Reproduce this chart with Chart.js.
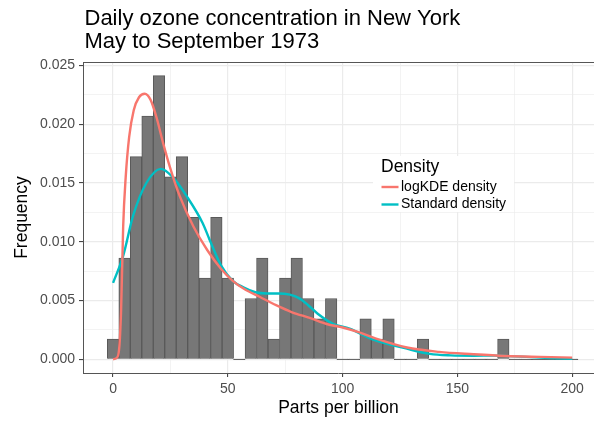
<!DOCTYPE html>
<html>
<head>
<meta charset="utf-8">
<script src="https://cdn.jsdelivr.net/npm/chart.js@4"></script>
<style>
  html, body { margin: 0; padding: 0; background: #fff; }
  #wrap { width: 594px; height: 421px; position: relative; }
</style>
</head>
<body>
<div id="wrap"><canvas id="chart"></canvas></div>
<script>
// histogram bins (width 5), density per bin
const binCenters = [0, 5, 10, 15, 20, 25, 30, 35, 40, 45, 50, 55, 60, 65, 70, 75, 80, 85, 90, 95, 100,
  105, 110, 115, 120, 125, 130, 135, 140, 145, 150, 155, 160, 165, 170, 175, 180, 185, 190, 195, 200];
const binDensity = [0.00172, 0.00862, 0.01724, 0.02069, 0.02414, 0.01552, 0.01724, 0.01207, 0.0069, 0.01207,
  0.0069, 0, 0.00517, 0.00862, 0.00172, 0.0069, 0.00862, 0.00517, 0.00345, 0.00517, 0,
  0, 0.00345, 0.00172, 0.00345, 0, 0, 0.00172, 0, 0, 0, 0, 0, 0, 0.00172, 0, 0, 0, 0, 0, 0];

// density curves
const logkdeX = [0, 1.5, 2.6, 3.5, 4.4, 5.5, 7, 9, 11.3, 13.8, 16.3, 18.9, 21.8, 24.7, 29, 35, 41, 47, 52, 57,
  64, 71, 78, 86, 93, 100, 107, 114, 128, 142, 157, 171, 186, 200];
const logkdeY = [0, 0.0001, 0.0008, 0.0042, 0.0113, 0.0155, 0.0189, 0.0212, 0.0223, 0.0226, 0.0221, 0.0206,
  0.0184, 0.0164, 0.0139, 0.0113, 0.0093, 0.0077, 0.0067, 0.0060, 0.0053, 0.0046, 0.0040, 0.0035, 0.0030,
  0.0027, 0.0023, 0.0018, 0.0010, 0.00063, 0.00043, 0.00028, 0.0002, 0.00014];
const standardX = [0, 4.4, 8.7, 14.5, 20.8, 26, 32, 39, 42, 47, 52, 57, 62, 67, 72, 77, 81, 85, 89, 96, 103,
  113, 128, 138, 147, 157, 166, 172, 180, 190, 200];
const standardY = [0.0065, 0.0088, 0.0122, 0.0150, 0.0162, 0.0155, 0.0139, 0.0116, 0.0102, 0.0080, 0.0067,
  0.0061, 0.0057, 0.0056, 0.0056, 0.0055, 0.0052, 0.0046, 0.0039, 0.0030, 0.0026, 0.0017, 0.0009, 0.00046,
  0.00033, 0.0003, 0.00031, 0.00027, 0.0002, 0.0001, 0.00003];

const xMajorTicks = [0, 50, 100, 150, 200];
const xMinorTicks = [25, 75, 125, 175];
const yMajorTicks = [0, 0.005, 0.01, 0.015, 0.02, 0.025];
const yMinorTicks = [0.0025, 0.0075, 0.0125, 0.0175, 0.0225];

const titleLines = ['Daily ozone concentration in New York', 'May to September 1973'];
const legendTitle = 'Density';
const seriesNames = ['logKDE density', 'Standard density'];
const seriesColors = ['#F8766D', '#00BFC4'];

const FONT = '"Liberation Sans", Arial, Helvetica, sans-serif';

const isMajor = (list, v) => list.some(m => Math.abs(m - v) < 1e-9);
const toPoints = (xs, ys) => xs.map((x, i) => ({ x: x, y: ys[i] }));

function setTicks(majors, minors) {
    return (scale) => {
        scale.ticks = majors.concat(minors).sort((a, b) => a - b).map(v => ({ value: v }));
    };
}

const decor = {
    id: 'decor',
    beforeDraw(chart) {
        const ctx = chart.ctx;
        ctx.save();
        ctx.fillStyle = '#fff';
        ctx.fillRect(0, 0, chart.width, chart.height);
        ctx.restore();
    },
    afterDraw(chart) {
        const ctx = chart.ctx;
        const area = chart.chartArea;
        ctx.save();
        // top border of the panel
        ctx.strokeStyle = '#555';
        ctx.lineWidth = 1;
        ctx.beginPath();
        ctx.moveTo(area.left, area.top + 0.5);
        ctx.lineTo(area.right, area.top + 0.5);
        ctx.stroke();

        // title
        ctx.fillStyle = '#000';
        ctx.font = '22px ' + FONT;
        ctx.textBaseline = 'alphabetic';
        ctx.textAlign = 'left';
        ctx.fillText(titleLines[0], 84.5, 24.5);
        ctx.fillText(titleLines[1], 84.5, 47.5);

        // legend
        ctx.fillStyle = '#fff';
        ctx.fillRect(373, 156, 141, 56);
        ctx.fillStyle = '#000';
        ctx.font = '17.5px ' + FONT;
        ctx.fillText(legendTitle, 381, 172);
        ctx.font = '14px ' + FONT;
        ctx.textBaseline = 'middle';
        const keyY = [187, 204.5];
        seriesNames.forEach((name, i) => {
            ctx.strokeStyle = seriesColors[i];
            ctx.lineWidth = 2.4;
            ctx.beginPath();
            ctx.moveTo(381.5, keyY[i]);
            ctx.lineTo(398.5, keyY[i]);
            ctx.stroke();
            ctx.fillStyle = '#000';
            ctx.fillText(name, 401, keyY[i]);
        });
        ctx.restore();
    }
};

const ctx = document.getElementById('chart').getContext('2d');
new Chart(ctx, {
    type: 'bar',
    data: {
        datasets: [
            {
                type: 'line',
                label: seriesNames[0],
                data: toPoints(logkdeX, logkdeY),
                borderColor: seriesColors[0],
                borderWidth: 2.4,
                pointRadius: 0,
                fill: false,
                cubicInterpolationMode: 'monotone',
                order: 0
            },
            {
                type: 'line',
                label: seriesNames[1],
                data: toPoints(standardX, standardY),
                borderColor: seriesColors[1],
                borderWidth: 2.4,
                pointRadius: 0,
                fill: false,
                cubicInterpolationMode: 'monotone',
                order: 1
            },
            {
                type: 'bar',
                label: 'Histogram',
                data: toPoints(binCenters, binDensity),
                backgroundColor: '#777777',
                borderColor: '#595959',
                borderWidth: 1,
                barPercentage: 1,
                categoryPercentage: 1,
                minBarLength: 1,
                order: 2
            }
        ]
    },
    options: {
        responsive: true,
        maintainAspectRatio: false,
        animation: false,
        layout: { padding: { top: 62, left: 0, right: 0, bottom: 0 } },
        plugins: {
            legend: { display: false },
            tooltip: { enabled: false }
        },
        scales: {
            x: {
                type: 'linear',
                min: -13.1,
                max: 209.5,
                offset: false,
                afterBuildTicks: setTicks(xMajorTicks, xMinorTicks),
                afterFit: (s) => { s.height = 48; },
                grid: {
                    offset: false,
                    color: '#ebebeb',
                    lineWidth: (c) => isMajor(xMajorTicks, c.tick.value) ? 1.2 : 0.6,
                    tickColor: (c) => isMajor(xMajorTicks, c.tick.value) ? '#333' : 'rgba(0,0,0,0)',
                    tickLength: 4,
                    tickWidth: 1
                },
                border: { display: true, color: '#555', width: 1 },
                ticks: {
                    autoSkip: false,
                    maxRotation: 0,
                    padding: 4,
                    color: '#4d4d4d',
                    font: { family: FONT, size: 14 },
                    callback: (v) => isMajor(xMajorTicks, v) ? String(v) : ''
                },
                title: {
                    display: true,
                    text: 'Parts per billion',
                    color: '#000',
                    font: { family: FONT, size: 17.5 },
                    padding: { top: 0, bottom: 2.5 }
                }
            },
            y: {
                type: 'linear',
                min: -0.00117,
                max: 0.0253,
                afterBuildTicks: setTicks(yMajorTicks, yMinorTicks),
                afterFit: (s) => { s.width = 83; },
                grid: {
                    color: '#ebebeb',
                    lineWidth: (c) => isMajor(yMajorTicks, c.tick.value) ? 1.2 : 0.6,
                    tickColor: (c) => isMajor(yMajorTicks, c.tick.value) ? '#333' : 'rgba(0,0,0,0)',
                    tickLength: 4,
                    tickWidth: 1
                },
                border: { display: true, color: '#555', width: 1 },
                ticks: {
                    autoSkip: false,
                    padding: 4,
                    color: '#4d4d4d',
                    font: { family: FONT, size: 14 },
                    callback: (v) => isMajor(yMajorTicks, v) ? v.toFixed(3) : ''
                },
                title: {
                    display: true,
                    text: 'Frequency',
                    color: '#000',
                    font: { family: FONT, size: 17.5 },
                    padding: { top: 11.5, bottom: 0 }
                }
            }
        }
    },
    plugins: [decor]
});
</script>
</body>
</html>
